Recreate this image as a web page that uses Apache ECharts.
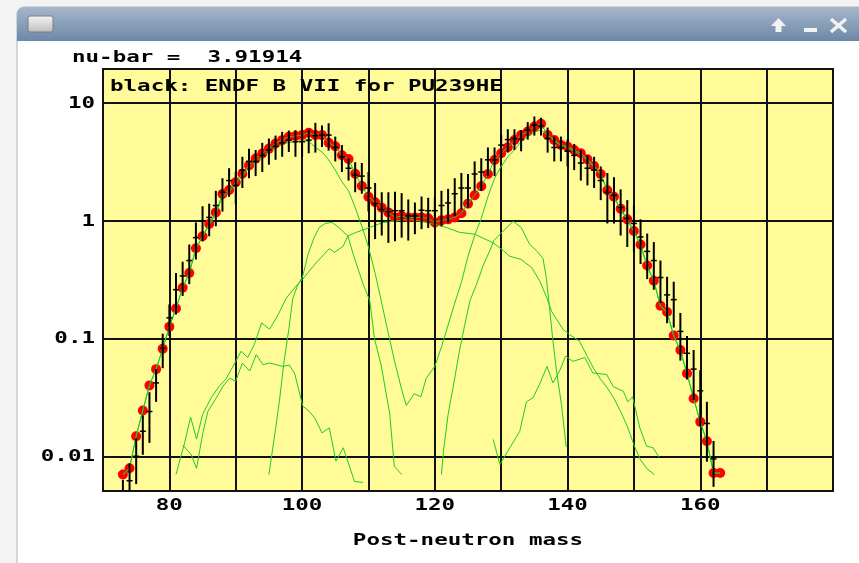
<!DOCTYPE html>
<html><head><meta charset="utf-8">
<script src="https://cdn.jsdelivr.net/npm/echarts@6/dist/echarts.min.js"></script>
<style>html,body{margin:0;padding:0;background:#f3f3f3;}#c{width:859px;height:563px;}</style>
</head><body><div id="c"></div>
<script>
// ---- tick labels ----
const xTickLabels = [80, 100, 120, 140, 160];
const yTickLabels = [0.01, 0.1, 1, 10];
const Y_MIN = 0.00507, Y_MAX = 19.5;

// ---- red dots: calculated yields [mass, yield] ----
const calcYield = [
 [73,0.0070],[74,0.0079],[75,0.0148],[76,0.0245],[77,0.040],[78,0.055],[79,0.082],[80,0.126],
 [81,0.18],[82,0.27],[83,0.36],[84,0.585],[85,0.74],[86,0.94],[87,1.18],[88,1.69],[89,1.83],
 [90,2.13],[91,2.51],[92,2.96],[93,3.38],[94,3.73],[95,4.11],[96,4.54],[97,4.85],[98,5.18],
 [99,5.25],[100,5.35],[101,5.6],[102,5.35],[103,5.35],[104,4.6],[105,4.3],[106,3.61],[107,3.35],
 [108,2.51],[109,1.98],[110,1.6],[111,1.44],[112,1.29],[113,1.18],[114,1.07],[115,1.10],[116,1.07],
 [117,1.07],[118,1.07],[119,1.05],[120,0.97],[121,1.01],[122,1.03],[123,1.07],[124,1.16],[125,1.4],
 [126,1.65],[127,1.97],[128,2.5],[129,3.29],[130,3.75],[131,4.22],[132,4.87],[133,5.37],[134,5.74],
 [135,6.32],[136,6.67],[137,5.37],[138,4.87],[139,4.42],[140,4.27],[141,4.0],[142,3.75],[143,3.33],
 [144,2.92],[145,2.5],[146,1.82],[147,1.6],[148,1.27],[149,1.03],[150,0.82],[151,0.63],[152,0.417],
 [153,0.31],[154,0.19],[155,0.168],[156,0.106],[157,0.08],[158,0.0506],[159,0.031],[160,0.0196],
 [161,0.0134],[162,0.0072],[163,0.0072]
];

// ---- green: total model (through the dots) ----
const totalModel = calcYield;

// ---- green: mode curves [mass, yield] ----
const modeS2 = [
 [73,0.0070],[74,0.0079],[75,0.0148],[76,0.0245],[77,0.040],[78,0.055],[79,0.082],[80,0.126],[81,0.18],
 [82,0.27],[83,0.36],[84,0.58],[85,0.73],[86,0.92],[87,1.15],[88,1.6],[89,1.75],[90,2.05],[91,2.4],
 [92,2.8],[93,3.2],[94,3.5],[95,3.85],[96,4.2],[97,4.45],[98,4.65],[99,4.7],[100,4.8],[101,4.75],
 [102,4.2],[103,3.85],[104,3.3],[105,2.7],[106,2.15],[107,1.8],[108,1.3],[109,0.9],[110,0.6],[111,0.36],
 [112,0.2],[113,0.11],[114,0.062],[115,0.037],[115.7,0.027],[116.9,0.034],[117.9,0.032],[118.7,0.046],
 [120,0.058],[121,0.085],[122,0.13],[123,0.2],[124,0.3],[125,0.5],[126,0.75],[127,1.05],[128,1.6],
 [129,2.3],[130,2.9],[131,3.5],[132,4.0],[133,4.7],[134,5.2],[135,5.7],[136,5.9],[137,5.3],[138,4.8],
 [139,4.35],[140,4.15],[141,3.9],[142,3.65],[143,3.25],[144,2.85],[145,2.45],[146,1.8],[147,1.57],
 [148,1.25],[149,1.01],[150,0.81],[151,0.62],[152,0.41],[153,0.305],[154,0.188],[155,0.166],[156,0.105],
 [157,0.079],[158,0.05],[159,0.031],[160,0.0195],[161,0.0133],[162,0.0072],[163,0.0072]
];
const modeS1Light = [
 [95,0.007],[96,0.017],[96.6,0.03],[97.3,0.065],[98,0.12],[98.6,0.22],[99.3,0.28],[100.1,0.34],
 [100.9,0.52],[101.8,0.72],[102.6,0.88],[103.5,0.95],[104.5,0.97],[105.5,0.88],[106.9,0.745],
 [107.7,0.52],[109.2,0.29],[110.2,0.21],[110.9,0.1],[111.9,0.06],[113.2,0.023],[113.9,0.0082],[115,0.007]
];
const modeS1Heavy = [
 [121,0.007],[121.3,0.011],[122,0.0226],[123,0.046],[123.7,0.078],[124.5,0.13],[125.3,0.21],[126.3,0.29],
 [127.3,0.42],[128.3,0.56],[128.9,0.68],[130.3,0.82],[131.8,0.99],[133,0.88],[134.3,0.63],[135.3,0.56],
 [136.3,0.48],[136.8,0.33],[137.3,0.18],[137.8,0.095],[138.3,0.055],[139.1,0.027],[139.8,0.012]
];
const modeBroad = [
 [81,0.007],[82.3,0.013],[83.2,0.0215],[84.1,0.014],[85,0.0226],[86.3,0.0315],[87.6,0.04],[88.5,0.045],
 [90,0.064],[90.8,0.078],[91.8,0.069],[92.8,0.089],[93.9,0.136],[95.1,0.12],[96.4,0.16],[97.6,0.22],
 [99.1,0.28],[100.1,0.32],[102.1,0.44],[104.1,0.58],[104.9,0.54],[106.2,0.61],[106.9,0.745],[108.2,0.8],
 [110.2,0.88],[112.2,0.97],[114.2,1.0],[116.2,1.03],[117.7,1.0],[119.7,0.94],[121.7,0.88],[123.7,0.8],
 [126,0.77],[128.8,0.65],[130.3,0.56],[131.3,0.5],[133,0.47],[134.6,0.4],[135.8,0.31],[136.9,0.22],
 [137.6,0.17],[139.3,0.12],[140.3,0.108],[141.8,0.095],[143,0.07],[144,0.055],[145,0.045],[146,0.038],
 [147,0.031],[148,0.024],[149,0.018],[150,0.0125],[151,0.0093],[152,0.0078],[153.1,0.007]
];
const modeLowLight = [
 [82,0.0125],[83.3,0.0103],[84.1,0.0079],[85,0.0153],[85.8,0.024],[87.1,0.0315],[88.1,0.0395],[89.1,0.046],
 [90,0.0435],[91,0.062],[92.1,0.053],[93.1,0.073],[94.1,0.06],[95.1,0.062],[96.1,0.06],[97.1,0.058],
 [98.1,0.0595],[98.9,0.05],[100.1,0.0267],[101.1,0.024],[101.9,0.0212],[103,0.0158],[104.1,0.0174],
 [105.1,0.0091],[106.2,0.0118],[107.9,0.0061],[109.2,0.006]
];
const modeLowHeavy = [
 [128.8,0.0139],[129.8,0.0085],[131.3,0.0118],[132.8,0.0163],[133.8,0.029],[134.8,0.0315],[135.8,0.041],
 [136.9,0.058],[137.8,0.042],[138.8,0.053],[139.7,0.071],[140.8,0.064],[142.6,0.069],[143.8,0.051],
 [145.9,0.0495],[146.9,0.039],[148.4,0.0357],[149.1,0.029],[149.8,0.032],[150.9,0.0174],[151.9,0.0122],
 [152.9,0.0118],[153.8,0.0098]
];

// ---- black: ENDF/B-VII evaluation [mass, yield, uncertainty] ----
const endfData = [
 [73,0.0045,0.0018],[74,0.0062,0.0025],[75,0.0100,0.0042],[76,0.0163,0.006],[77,0.024,0.011],
 [78,0.042,0.013],[79,0.083,0.027],[80,0.15,0.045],[81,0.26,0.10],[82,0.34,0.11],[83,0.46,0.17],
 [84,0.72,0.25],[85,1.0,0.33],[86,1.07,0.33],[87,1.35,0.45],[88,1.75,0.55],[89,2.2,0.6],[90,2.0,0.6],
 [91,2.7,0.8],[92,3.2,0.9],[93,3.2,0.8],[94,3.6,1.0],[95,4.0,1.0],[96,4.3,1.0],[97,4.6,1.1],[98,4.85,1.0],
 [99,4.7,1.2],[100,4.7,1.2],[101,4.85,1.1],[102,5.3,1.5],[103,5.35,1.1],[104,5.35,1.4],[105,4.2,1.0],
 [106,3.5,0.9],[107,2.8,0.6],[108,2.45,0.7],[109,2.4,0.7],[110,1.9,0.7],[111,1.4,0.7],[112,1.25,0.5],
 [113,1.2,0.55],[114,1.22,0.55],[115,1.22,0.5],[116,1.1,0.42],[117,1.1,0.33],[118,1.23,0.38],
 [119,1.22,0.35],[120,1.22,0.35],[121,1.35,0.45],[122,1.42,0.45],[123,1.7,0.6],[124,1.9,0.65],
 [125,1.9,0.6],[126,2.5,0.7],[127,2.6,0.8],[128,3.3,0.9],[129,3.3,0.9],[130,4.4,1.0],[131,4.9,1.1],
 [132,5.0,1.0],[133,4.9,1.0],[134,5.9,1.0],[135,6.5,1.2],[136,6.4,1.1],[137,5.0,1.2],[138,4.2,1.0],
 [139,4.2,1.0],[140,3.9,1.0],[141,3.6,0.9],[142,3.1,0.9],[143,2.8,0.8],[144,2.7,0.8],[145,2.2,0.7],
 [146,1.75,0.8],[147,1.65,0.7],[148,1.3,0.55],[149,1.05,0.45],[150,0.95,0.4],[151,0.73,0.3],
 [152,0.55,0.23],[153,0.46,0.2],[154,0.33,0.13],[155,0.235,0.1],[156,0.214,0.09],[157,0.115,0.05],
 [158,0.075,0.03],[159,0.055,0.025],[160,0.036,0.018],[161,0.019,0.01],[162,0.0095,0.004]
];

const FONT = 'bold 15px "DejaVu Sans Mono", "Liberation Mono", monospace';
const STRETCH = 1.5;
const GREEN = '#1fcc1f';

function textEl(x, y, text, align) {
  return { type: 'text', x: x, y: y, scaleX: STRETCH, z: 100,
    style: { text: text, font: FONT, fill: '#000',
      align: align, verticalAlign: 'middle', textAlign: align, textVerticalAlign: 'middle' } };
}

const chart = echarts.init(document.getElementById('c'), null, { renderer: 'canvas' });

const greenLine = (name, data) => ({
  name: name, type: 'line', data: data, showSymbol: false, symbol: 'none', z: 3,
  lineStyle: { color: GREEN, width: 1 }, itemStyle: { color: GREEN }, silent: true
});

chart.setOption({
  animation: false,
  backgroundColor: '#f3f3f3',
  graphic: [
    { type: 'rect', z: -10, shape: { x: 17, y: 7, width: 900, height: 620, r: [7, 7, 0, 0] },
      style: { fill: '#ffffff', stroke: '#a9b6c6', lineWidth: 1 } },
    { type: 'rect', z: -9, shape: { x: 17, y: 7, width: 900, height: 34, r: [7, 7, 0, 0] },
      style: { fill: { type: 'linear', x: 0, y: 0, x2: 0, y2: 1,
        colorStops: [{ offset: 0, color: '#a6b7cb' }, { offset: 1, color: '#6c88a7' }] } } },
    { type: 'rect', z: -8, shape: { x: 28, y: 16, width: 25, height: 16, r: 2 },
      style: { fill: { type: 'linear', x: 0, y: 0, x2: 0, y2: 1,
        colorStops: [{ offset: 0, color: '#f4f4f4' }, { offset: 1, color: '#bdbdbd' }] },
        stroke: '#7d7d7d', lineWidth: 1 } },
    { type: 'polygon', z: -8, shape: { points: [[771, 26], [778.5, 18], [786, 26], [781.5, 26], [781.5, 32], [775.5, 32], [775.5, 26]] },
      style: { fill: '#f2f2f2' } },
    { type: 'rect', z: -8, shape: { x: 804, y: 28, width: 13, height: 4 }, style: { fill: '#f2f2f2' } },
    { type: 'line', z: -8, shape: { x1: 831, y1: 19, x2: 846, y2: 32 }, style: { stroke: '#f2f2f2', lineWidth: 3.5 } },
    { type: 'line', z: -8, shape: { x1: 846, y1: 19, x2: 831, y2: 32 }, style: { stroke: '#f2f2f2', lineWidth: 3.5 } },
    textEl(72, 58, 'nu-bar =  3.91914', 'left'),
    textEl(110, 87, 'black: ENDF B VII for PU239HE', 'left'),
    textEl(468, 541, 'Post-neutron mass', 'center')
  ],
  grid: { left: 103, top: 69, width: 730, height: 422, show: true,
    backgroundColor: '#fffb99', borderColor: '#111', borderWidth: 2 },
  xAxis: { type: 'value', min: 70, max: 180, interval: 10,
    axisLine: { show: false }, axisTick: { show: false }, axisLabel: { show: false },
    splitLine: { show: true, lineStyle: { color: '#111', width: 2 } } },
  yAxis: { type: 'log', logBase: 10, min: Y_MIN, max: Y_MAX,
    axisLine: { show: false }, axisTick: { show: false }, axisLabel: { show: false },
    minorSplitLine: { show: false },
    splitLine: { show: true, lineStyle: { color: '#111', width: 2 } } },
  series: [
    { name: 'calc', type: 'scatter', data: calcYield, symbol: 'circle', symbolSize: 10, z: 2,
      itemStyle: { color: '#ff0000', opacity: 1 }, silent: true },
    greenLine('total', totalModel),
    greenLine('S2', modeS2),
    greenLine('S1 light', modeS1Light),
    greenLine('S1 heavy', modeS1Heavy),
    greenLine('broad', modeBroad),
    greenLine('low light', modeLowLight),
    greenLine('low heavy', modeLowHeavy),
    { name: 'ENDF', type: 'custom', data: endfData, clip: true, z: 4, silent: true,
      encode: { x: 0, y: 1 },
      renderItem: function (params, api) {
        const m = api.value(0), v = api.value(1), e = api.value(2);
        const top = api.coord([m, v + e]);
        const bot = api.coord([m, Math.max(v - e, 1e-5)]);
        const c = api.coord([m, v]);
        return { type: 'group', children: [
          { type: 'line', shape: { x1: top[0], y1: top[1], x2: bot[0], y2: bot[1] },
            style: { stroke: '#000', lineWidth: 2 } },
          { type: 'line', shape: { x1: c[0] - 3, y1: c[1], x2: c[0] + 3, y2: c[1] },
            style: { stroke: '#000', lineWidth: 1.5 } }
        ] };
      } },
    { name: 'xLabels', type: 'custom', data: xTickLabels.map(v => [v, Y_MIN]), clip: false, z: 10, silent: true,
      encode: { x: 0, y: 1 },
      renderItem: function (params, api) {
        const p = api.coord([api.value(0), Y_MIN]);
        return textEl(p[0], p[1] + 15, String(api.value(0)), 'center');
      } },
    { name: 'yLabels', type: 'custom', data: yTickLabels.map(v => [70, v]), clip: false, z: 10, silent: true,
      encode: { x: 0, y: 1 },
      renderItem: function (params, api) {
        const p = api.coord([70, api.value(1)]);
        return textEl(p[0] - 8, p[1] + 1, String(api.value(1)), 'right');
      } }
  ]
});
</script></body></html>
